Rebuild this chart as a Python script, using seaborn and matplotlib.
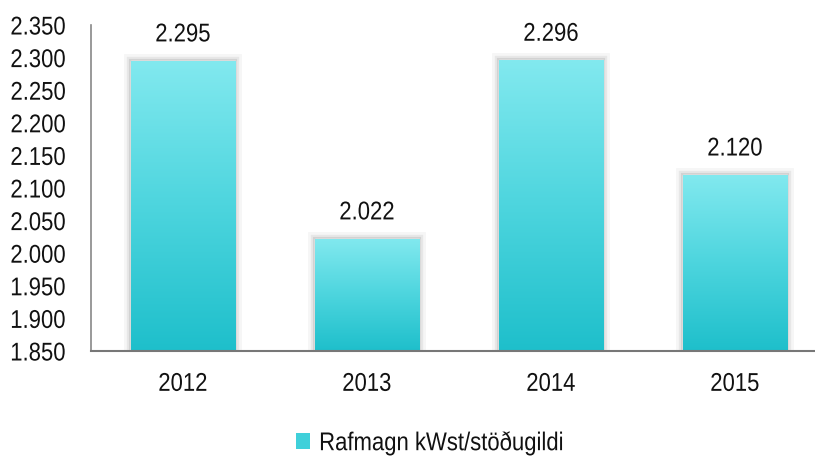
import numpy as np
import matplotlib
matplotlib.use('Agg')
import matplotlib.pyplot as plt
import seaborn as sns
import pandas as pd
from matplotlib import patheffects as pe
from matplotlib.colors import LinearSegmentedColormap
from matplotlib.ticker import FuncFormatter
from matplotlib.patches import Patch
from matplotlib.transforms import Affine2D

years = ['2012', '2013', '2014', '2015']
values = [2295, 2022, 2296, 2120]
series_name = 'Rafmagn kWst/stöðugildi'
y_ticks = [1850, 1900, 1950, 2000, 2050, 2100, 2150, 2200, 2250, 2300, 2350]

sns.set_theme(style='white')
plt.rcParams['font.family'] = ['Liberation Sans', 'DejaVu Sans']


class Condense(pe.AbstractPathEffect):
    """Horizontally condense text to mimic a narrow typeface."""
    def __init__(self, sx=0.88, anchor='center'):
        super().__init__()
        self.sx = sx
        self.anchor = anchor

    def draw_path(self, renderer, gc, tpath, affine, rgbFace=None):
        verts = tpath.vertices
        if len(verts):
            v = affine.transform(verts)
            x0, x1 = v[:, 0].min(), v[:, 0].max()
            cx = {'left': x0, 'right': x1}.get(self.anchor, 0.5 * (x0 + x1))
            affine = affine + Affine2D().translate(-cx, 0).scale(self.sx, 1).translate(cx, 0)
        renderer.draw_path(gc, tpath, affine, rgbFace)


def fmt(v, pos=None):
    return f'{int(round(v)):,}'.replace(',', '.')

fig = plt.figure(figsize=(8.15, 4.59), dpi=100)
ax = fig.add_axes([91/815, 1-351/459, 736/815, 326/459])
df = pd.DataFrame({'year': years, 'value': values})
sns.barplot(data=df, x='year', y='value', ax=ax, color='#3fd0da', width=0.57,
            saturation=1, errorbar=None)
ax.set_ylim(1850, 2350)
ax.set_xlim(-0.5, 3.5)

cmap = LinearSegmentedColormap.from_list('g', ['#1ebfcb', '#4dd5de', '#82e9ef'])
grad = np.linspace(0, 1, 256).reshape(-1, 1)
for bar in ax.patches:
    bar.set_path_effects([
        pe.Stroke(linewidth=10, foreground='#000000', alpha=0.035),
        pe.Stroke(linewidth=6, foreground='#000000', alpha=0.06),
        pe.Stroke(linewidth=3, foreground='#000000', alpha=0.09),
        pe.Normal()])
    x0 = bar.get_x(); w = bar.get_width(); top = bar.get_height()
    im = ax.imshow(grad, extent=(x0, x0 + w, 1850, top), origin='lower',
                   cmap=cmap, aspect='auto', zorder=bar.get_zorder() + 0.1)
    im.set_clip_path(bar)

for i, v in enumerate(values):
    t = ax.annotate(fmt(v), xy=(i, v), xytext=(0, 14), textcoords='offset points',
                    ha='center', va='baseline', fontsize=18.5, color='#111111')
    t.set_path_effects([Condense(0.86, 'center')])

ax.set_yticks(y_ticks)
ax.yaxis.set_major_formatter(FuncFormatter(fmt))
ax.set_xlabel('')
ax.set_ylabel('')
ax.tick_params(axis='y', length=0, pad=18, labelsize=18.5, labelcolor='#111111')
ax.tick_params(axis='x', length=0, pad=15, labelsize=18.5, labelcolor='#111111')
for s in ['top', 'right']:
    ax.spines[s].set_visible(False)
ax.spines['left'].set_color('#888888')
ax.spines['left'].set_linewidth(1.2)
ax.spines['bottom'].set_color('#777777')
ax.spines['bottom'].set_linewidth(1.5)

fig.canvas.draw()
for lab in ax.get_yticklabels():
    lab.set_path_effects([Condense(0.86, 'right')])
for lab in ax.get_xticklabels():
    lab.set_path_effects([Condense(0.86, 'center')])

handle = Patch(facecolor='#3fd0da', edgecolor='none')
leg = fig.legend([handle], [series_name], loc='center left',
                 bbox_to_anchor=(296/815, 1-443/459),
                 frameon=False, fontsize=18.5, handlelength=0.55, handleheight=0.55,
                 handletextpad=0.35, labelcolor='#111111', borderpad=0, borderaxespad=0)
for txt in leg.get_texts():
    txt.set_path_effects([Condense(0.86, 'left')])

fig.savefig('out.png', dpi=100)
